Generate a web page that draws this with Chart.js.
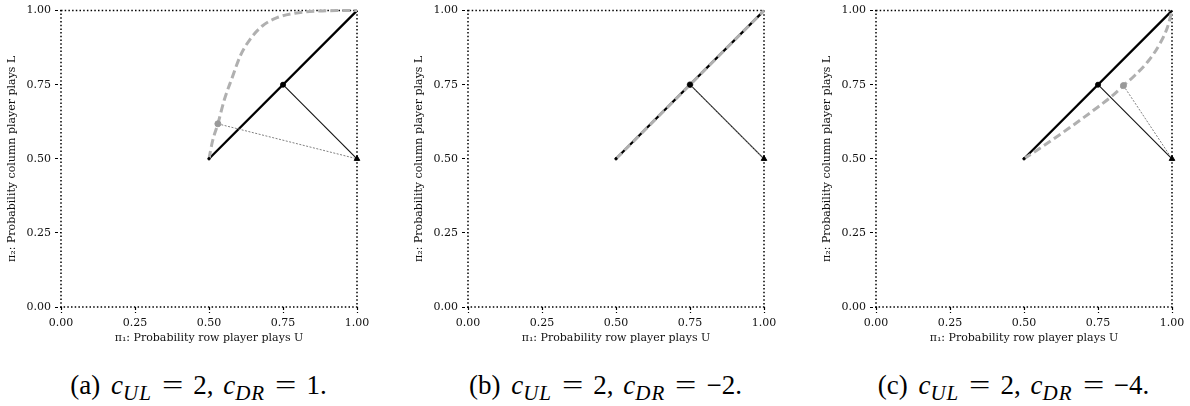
<!DOCTYPE html>
<html>
<head>
<meta charset="utf-8">
<script src="https://cdn.jsdelivr.net/npm/chart.js@4"></script>
<style>
  body { margin: 0; background: #fff; width: 1190px; height: 406px; position: relative; overflow: hidden; }
  .panel { position: absolute; top: 0; width: 400px; height: 350px; }
  .caption { position: absolute; top: 370px; width: 397px; text-align: center; white-space: nowrap;
             font-family: "Liberation Serif", serif; font-size: 27px; color: #000; }
  .caption sub { font-size: 21px; letter-spacing: 1px; vertical-align: -6px; line-height: 0; }
  .caption .lbl { margin-right: 4px; }
  .caption .eq { display: inline-block; transform: scaleX(1.4); margin: 0 13px; }
  .caption .sep { margin-right: 3px; }
</style>
</head>
<body>
<div class="panel" style="left:0px"><canvas id="chart-a" width="400" height="350"></canvas></div>
<div class="panel" style="left:407px"><canvas id="chart-b" width="400" height="350"></canvas></div>
<div class="panel" style="left:815px"><canvas id="chart-c" width="400" height="350"></canvas></div>
<div class="caption" style="left:0px"><span class="lbl">(a)</span> <i>c</i><sub><i>UL</i></sub><span class="eq">=</span>2,<span class="sep"></span> <i>c</i><sub><i>DR</i></sub><span class="eq">=</span>1.</div>
<div class="caption" style="left:407px"><span class="lbl">(b)</span> <i>c</i><sub><i>UL</i></sub><span class="eq">=</span>2,<span class="sep"></span> <i>c</i><sub><i>DR</i></sub><span class="eq">=</span>−2.</div>
<div class="caption" style="left:815px"><span class="lbl">(c)</span> <i>c</i><sub><i>UL</i></sub><span class="eq">=</span>2,<span class="sep"></span> <i>c</i><sub><i>DR</i></sub><span class="eq">=</span>−4.</div>
<script>
// axis ticks
const tickVals = [0, 0.25, 0.5, 0.75, 1];
const tickLabels = ['0.00', '0.25', '0.50', '0.75', '1.00'];

// shared lines: diagonal and best-response segment
const diagX = [0.5, 1];
const diagY = [0.5, 1];
const brX = [0.75, 1];
const brY = [0.75, 0.5];

// gray dashed curves, one per panel
const curveAX = [0.5, 0.512, 0.53, 0.552, 0.578, 0.606, 0.64, 0.68, 0.73, 0.79, 0.86, 0.93, 1.0];
const curveAY = [0.5, 0.56, 0.618, 0.70, 0.773, 0.848, 0.905, 0.948, 0.976, 0.991, 0.998, 1.0, 1.0];
const curveBX = [0.5, 1];
const curveBY = [0.5, 1];
const curveCX = [0.5, 0.55, 0.6, 0.65, 0.7, 0.75, 0.8, 0.836, 0.875, 0.92, 0.96, 0.985, 1.0];
const curveCY = [0.5, 0.533, 0.567, 0.602, 0.638, 0.675, 0.714, 0.747, 0.782, 0.83, 0.89, 0.945, 1.0];

// gray point on each curve and its dotted link to (1, 0.5)
const linkAX = [0.53, 1];
const linkAY = [0.618, 0.5];
const linkBX = [0.75, 1];
const linkBY = [0.75, 0.5];
const linkCX = [0.836, 1];
const linkCY = [0.747, 0.5];

const xTitle = 'π₁: Probability row player plays U';
const yTitle = 'π₂: Probability column player plays L';

function pts(xs, ys) {
    return xs.map((x, i) => ({ x: x, y: ys[i] }));
}

// dotted frame round the plot area
const framePlugin = {
    id: 'frame',
    beforeDatasetsDraw(chart) {
        const a = chart.chartArea;
        const ctx = chart.ctx;
        ctx.save();
        ctx.strokeStyle = '#000';
        ctx.lineWidth = 1.5;
        ctx.setLineDash([1.5, 2.2]);
        ctx.strokeRect(a.left, a.top, a.right - a.left, a.bottom - a.top);
        ctx.restore();
    }
};

function axis(title, isX) {
    return {
        type: 'linear',
        min: 0,
        max: 1,
        afterBuildTicks: s => { s.ticks = tickVals.map(v => ({ value: v })); },
        afterFit: s => { if (isX) s.height = 43; else s.width = 61; },
        ticks: {
            callback: (v) => tickLabels[tickVals.indexOf(v)],
            color: '#111',
            font: { family: 'DejaVu Serif', size: 11 },
            padding: 4,
            maxRotation: 0
        },
        grid: {
            display: true,
            drawOnChartArea: false,
            drawTicks: true,
            tickLength: 6,
            tickColor: '#000',
            tickWidth: 1.2,
            tickBorderDash: [3, 2]
        },
        border: { display: false },
        title: {
            display: true,
            text: title,
            color: '#111',
            font: { family: 'DejaVu Serif', size: 11 },
            padding: isX ? { top: 2, bottom: 5 } : { top: 6, bottom: 2 }
        }
    };
}

function makeChart(id, curveX, curveY, linkX, linkY) {
    const datasets = [
        { // black markers
            data: pts([0.75], [0.75]),
            pointStyle: 'circle', pointRadius: 2.5,
            pointBackgroundColor: '#000', pointBorderColor: '#000', order: 0
        },
        {
            data: pts([1], [0.5]),
            pointStyle: 'triangle', pointRadius: 3.2,
            pointBackgroundColor: '#000', pointBorderColor: '#000', order: 0
        },
        {
            data: pts([0.5], [0.5]),
            pointRadius: 1.2,
            pointBackgroundColor: '#000', pointBorderColor: '#000', order: 0
        },
        { // gray marker on the curve
            data: pts([linkX[0]], [linkY[0]]),
            pointRadius: 3,
            pointBackgroundColor: '#999', pointBorderColor: '#999', order: 1
        },
        { // gray dashed curve
            data: pts(curveX, curveY),
            showLine: true, pointRadius: 0,
            borderColor: '#b0b0b0', borderWidth: 3, borderDash: [8, 4],
            cubicInterpolationMode: 'monotone', order: 2
        },
        { // gray dotted link
            data: pts(linkX, linkY),
            showLine: true, pointRadius: 0,
            borderColor: '#808080', borderWidth: 1, borderDash: [2, 1.5], order: 3
        },
        { // black thin segment
            data: pts(brX, brY),
            showLine: true, pointRadius: 0,
            borderColor: '#111', borderWidth: 1.1, order: 4
        },
        { // black thick diagonal
            data: pts(diagX, diagY),
            showLine: true, pointRadius: 0,
            borderColor: '#000', borderWidth: 2.3, order: 5
        }
    ];
    datasets.forEach(d => { d.clip = false; });

    new Chart(document.getElementById(id).getContext('2d'), {
        type: 'scatter',
        data: { datasets: datasets },
        options: {
            responsive: false,
            animation: false,
            layout: { padding: { top: 9, right: 43, left: 0, bottom: 0 } },
            plugins: { legend: { display: false }, tooltip: { enabled: false } },
            scales: {
                x: axis(xTitle, true),
                y: axis(yTitle, false)
            }
        },
        plugins: [framePlugin]
    });
}

makeChart('chart-a', curveAX, curveAY, linkAX, linkAY);
makeChart('chart-b', curveBX, curveBY, linkBX, linkBY);
makeChart('chart-c', curveCX, curveCY, linkCX, linkCY);
</script>
</body>
</html>
